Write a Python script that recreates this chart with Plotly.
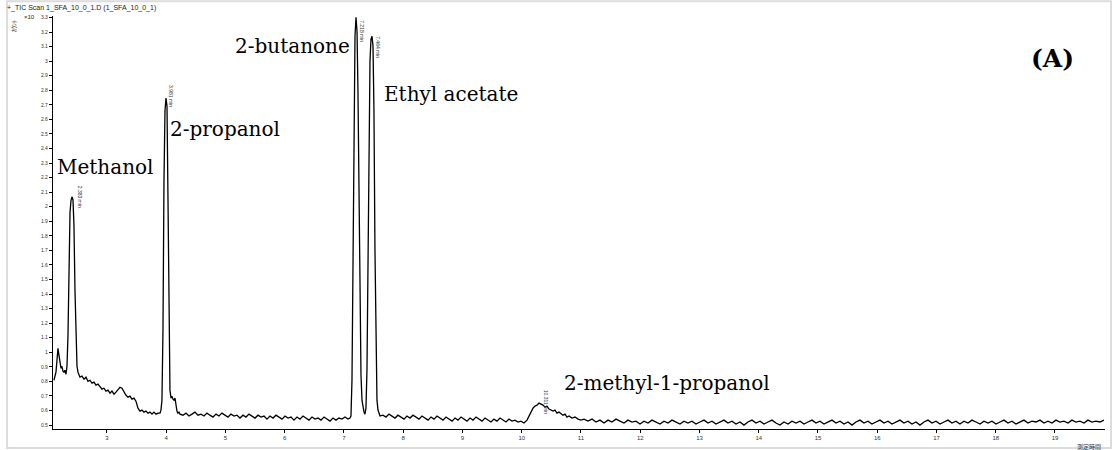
import plotly.graph_objects as go

# ---- data (retention time in min, intensity in x10^4 counts) ----
t_start = [2.105, 2.122, 2.139, 2.156, 2.173, 2.190, 2.207, 2.224, 2.240, 2.257, 2.274, 2.291,
           2.308, 2.325, 2.342, 2.359, 2.376, 2.392, 2.409, 2.426, 2.443, 2.460, 2.477, 2.494,
           2.511, 2.527, 2.544]
i_start = [0.808, 0.836, 0.863, 0.945, 1.027, 0.979, 0.918, 0.890, 0.904, 0.870, 0.863, 0.877,
           0.849, 0.904, 1.116, 1.562, 1.959, 2.041, 2.068, 2.048, 1.870, 1.425, 1.048, 0.904,
           0.863, 0.842, 0.829]

t_early = [2.578, 2.612, 2.646, 2.679, 2.713, 2.747, 2.781, 2.814, 2.848, 2.882, 2.916, 2.949,
           2.983, 3.017, 3.051, 3.084, 3.118, 3.152, 3.186, 3.219, 3.253, 3.287, 3.321, 3.354,
           3.388, 3.422, 3.456, 3.489, 3.523, 3.557, 3.591, 3.624, 3.658, 3.692, 3.726, 3.760,
           3.793, 3.827, 3.861, 3.895, 3.911]
i_early = [0.836, 0.815, 0.829, 0.801, 0.808, 0.788, 0.795, 0.774, 0.781, 0.760, 0.747, 0.753,
           0.733, 0.740, 0.719, 0.733, 0.712, 0.726, 0.747, 0.760, 0.753, 0.726, 0.705, 0.692,
           0.699, 0.678, 0.685, 0.664, 0.616, 0.596, 0.603, 0.589, 0.596, 0.582, 0.589, 0.575,
           0.589, 0.575, 0.582, 0.582, 0.603]

t_propanol = [3.928, 3.945, 3.962, 3.979, 3.996, 4.013, 4.030, 4.047, 4.063, 4.080, 4.097,
              4.114, 4.131, 4.148, 4.165, 4.181, 4.198, 4.215, 4.232]
i_propanol = [0.671, 1.151, 2.178, 2.658, 2.747, 2.692, 2.041, 1.151, 0.740, 0.685, 0.699,
              0.678, 0.671, 0.685, 0.637, 0.596, 0.582, 0.589, 0.575]

t_mid = [4.283, 4.333, 4.384, 4.435, 4.485, 4.536, 4.587, 4.637, 4.688, 4.738, 4.789, 4.840,
         4.890, 4.941, 4.992, 5.042, 5.093, 5.144, 5.194, 5.245, 5.295, 5.346, 5.397, 5.447,
         5.498, 5.549, 5.599, 5.650, 5.700, 5.751, 5.802, 5.852, 5.903, 5.954, 6.004, 6.055,
         6.106, 6.156, 6.207, 6.257, 6.308, 6.359, 6.409, 6.460, 6.511, 6.561, 6.612, 6.663,
         6.713, 6.764, 6.814, 6.865, 6.916, 6.966, 7.017, 7.068, 7.101]
i_mid = [0.568, 0.582, 0.562, 0.575, 0.589, 0.568, 0.575, 0.562, 0.582, 0.568, 0.555, 0.575,
         0.562, 0.582, 0.568, 0.555, 0.575, 0.562, 0.568, 0.548, 0.568, 0.555, 0.575, 0.562,
         0.548, 0.568, 0.555, 0.562, 0.541, 0.562, 0.548, 0.568, 0.555, 0.541, 0.562, 0.548,
         0.555, 0.534, 0.555, 0.541, 0.562, 0.548, 0.534, 0.555, 0.541, 0.548, 0.534, 0.555,
         0.541, 0.527, 0.548, 0.534, 0.548, 0.541, 0.555, 0.541, 0.548]

t_pair = [7.118, 7.135, 7.152, 7.169, 7.186, 7.203, 7.220, 7.236, 7.253, 7.270, 7.287, 7.304,
          7.321, 7.338, 7.354, 7.371, 7.388, 7.405, 7.422, 7.439, 7.456, 7.473, 7.490, 7.506,
          7.523, 7.540, 7.557, 7.574, 7.591, 7.608]
i_pair = [0.562, 0.808, 1.699, 2.658, 3.171, 3.301, 3.205, 2.795, 2.041, 1.288, 0.842, 0.671,
          0.616, 0.589, 0.575, 0.616, 0.877, 1.630, 2.452, 3.000, 3.151, 3.171, 3.103, 2.658,
          1.699, 0.945, 0.671, 0.603, 0.575, 0.562]

t_late = [7.658, 7.709, 7.760, 7.810, 7.861, 7.911, 7.962, 8.013, 8.063, 8.114, 8.165, 8.215,
          8.266, 8.317, 8.367, 8.418, 8.468, 8.519, 8.570, 8.620, 8.671, 8.722, 8.772, 8.823,
          8.874, 8.924, 8.975, 9.025, 9.076, 9.127, 9.177, 9.228, 9.279, 9.329, 9.380, 9.431,
          9.481, 9.532, 9.582, 9.633, 9.684, 9.734, 9.785, 9.836, 9.886, 9.937, 9.987, 10.038,
          10.089, 10.123]
i_late = [0.568, 0.555, 0.575, 0.562, 0.548, 0.568, 0.555, 0.541, 0.562, 0.548, 0.568, 0.555,
          0.541, 0.562, 0.548, 0.534, 0.555, 0.541, 0.562, 0.548, 0.534, 0.555, 0.541, 0.527,
          0.548, 0.534, 0.555, 0.541, 0.527, 0.548, 0.534, 0.555, 0.541, 0.527, 0.548, 0.534,
          0.521, 0.541, 0.527, 0.548, 0.534, 0.521, 0.541, 0.527, 0.534, 0.521, 0.527, 0.514,
          0.534, 0.562]

t_methylpropanol = [10.156, 10.190, 10.224, 10.258, 10.291, 10.325, 10.359, 10.393, 10.426,
                    10.460, 10.494, 10.528, 10.561, 10.595, 10.629, 10.663, 10.696, 10.730,
                    10.764, 10.798, 10.848, 10.899, 10.950, 11.000, 11.051]
i_methylpropanol = [0.589, 0.616, 0.630, 0.637, 0.651, 0.644, 0.637, 0.623, 0.630,
                    0.610, 0.603, 0.596, 0.603, 0.582, 0.589, 0.575, 0.568, 0.575,
                    0.555, 0.562, 0.548, 0.555, 0.541, 0.534, 0.541]

t_tail = [11.118, 11.186, 11.253, 11.321, 11.388, 11.456, 11.523, 11.591, 11.658, 11.726,
          11.793, 11.861, 11.928, 11.996, 12.063, 12.131, 12.198, 12.266, 12.333, 12.401,
          12.468, 12.536, 12.603, 12.671, 12.738, 12.806, 12.873, 12.941, 13.008, 13.076,
          13.143, 13.211, 13.278, 13.346, 13.413, 13.481, 13.548, 13.616, 13.683, 13.751,
          13.818, 13.886, 13.953, 14.021, 14.088, 14.156, 14.223, 14.291, 14.358, 14.426,
          14.494, 14.561, 14.629, 14.696, 14.764, 14.831, 14.899, 14.966, 15.034, 15.101,
          15.169, 15.236, 15.304, 15.371, 15.439, 15.506, 15.574, 15.641, 15.709, 15.776,
          15.844, 15.911, 15.979, 16.046, 16.114, 16.181, 16.249, 16.316, 16.384, 16.451,
          16.519, 16.586, 16.654, 16.721, 16.789, 16.856, 16.924, 16.991, 17.059, 17.126,
          17.194, 17.261, 17.329, 17.396, 17.464, 17.531, 17.599, 17.666, 17.734, 17.801,
          17.869, 17.936, 18.004, 18.071, 18.139, 18.206, 18.274, 18.341, 18.409, 18.476,
          18.544, 18.611, 18.679, 18.746, 18.814, 18.881, 18.949, 19.016, 19.084, 19.151,
          19.219, 19.286, 19.354, 19.421, 19.489, 19.556, 19.624, 19.691, 19.759, 19.826]
i_tail = [0.527, 0.541, 0.521, 0.534, 0.514, 0.534, 0.521, 0.541, 0.527, 0.514,
          0.534, 0.521, 0.527, 0.507, 0.527, 0.514, 0.534, 0.521, 0.507, 0.527,
          0.514, 0.534, 0.521, 0.507, 0.527, 0.514, 0.527, 0.507, 0.521, 0.534,
          0.514, 0.527, 0.507, 0.521, 0.534, 0.514, 0.527, 0.507, 0.521, 0.500,
          0.521, 0.534, 0.514, 0.527, 0.507, 0.521, 0.534, 0.514, 0.500, 0.521,
          0.507, 0.527, 0.514, 0.527, 0.507, 0.521, 0.534, 0.514, 0.527, 0.507,
          0.521, 0.534, 0.514, 0.527, 0.507, 0.521, 0.500, 0.521, 0.534, 0.514,
          0.527, 0.507, 0.521, 0.534, 0.514, 0.527, 0.507, 0.521, 0.534, 0.514,
          0.527, 0.507, 0.521, 0.500, 0.521, 0.534, 0.514, 0.527, 0.507, 0.521,
          0.534, 0.514, 0.527, 0.507, 0.527, 0.514, 0.534, 0.521, 0.507, 0.527,
          0.514, 0.527, 0.507, 0.521, 0.534, 0.514, 0.527, 0.507, 0.521, 0.534,
          0.514, 0.527, 0.521, 0.534, 0.514, 0.527, 0.514, 0.534, 0.521, 0.527,
          0.514, 0.534, 0.521, 0.527, 0.514, 0.534, 0.521, 0.527, 0.521, 0.534]

compound_names = ["Methanol", "2-propanol", "2-butanone", "Ethyl acetate", "2-methyl-1-propanol"]
compound_label_t = [2.122, 4.030, 7.135, 7.641, 10.680]
compound_label_i = [2.274, 2.534, 3.103, 2.774, 0.788]
compound_anchor = ["left", "left", "right", "left", "left"]

peak_rt_text = ["2.383 min", "3.981 min", "7.218 min", "7.464 min", "10.311 min"]
peak_text_t = [2.460, 3.996, 7.220, 7.490, 10.325]
peak_text_i = [2.158, 2.849, 3.295, 3.185, 0.753]

x_ticks = list(range(3, 20))
y_ticks = [round(0.5 + 0.1 * k, 1) for k in range(29)]
y_ticktext = [("%g" % v) for v in y_ticks]

rt = t_start + t_early + t_propanol + t_mid + t_pair + t_late + t_methylpropanol + t_tail
inten = i_start + i_early + i_propanol + i_mid + i_pair + i_late + i_methylpropanol + i_tail

fig = go.Figure()
fig.add_trace(go.Scatter(x=rt, y=inten, mode="lines",
                         line=dict(color="black", width=1.3), hoverinfo="x+y"))

serif = "DejaVu Serif"
for name, tx, iy, anc in zip(compound_names, compound_label_t, compound_label_i, compound_anchor):
    fig.add_annotation(x=tx, y=iy, text=name, showarrow=False, xanchor=anc, yanchor="middle",
                       font=dict(family=serif, size=20, color="black"))

for txt, tx, iy in zip(peak_rt_text, peak_text_t, peak_text_i):
    fig.add_annotation(x=tx, y=iy, text=txt, showarrow=False, textangle=90,
                       xanchor="left", yanchor="top",
                       font=dict(family="Liberation Sans", size=5, color="#333"))

fig.add_annotation(x=18.966, y=3.021, text="<b>(A)</b>", showarrow=False,
                   xanchor="center", yanchor="middle",
                   font=dict(family=serif, size=25, color="black"))

# header texts
fig.add_annotation(xref="paper", yref="paper", x=-0.0456, y=1.0194,
                   text="+_TIC Scan 1_SFA_10_0_1.D (1_SFA_10_0_1)", showarrow=False,
                   xanchor="left", yanchor="middle",
                   font=dict(family="Liberation Sans", size=7, color="#222"))
fig.add_annotation(xref="paper", yref="paper", x=-0.0295, y=0.998,
                   text="×10", showarrow=False, xanchor="left", yanchor="middle",
                   font=dict(family="Liberation Sans", size=6, color="#222"))
fig.add_annotation(xref="paper", yref="paper", x=-0.037, y=0.976,
                   text="ｶｳﾝﾄ", showarrow=False, textangle=-90,
                   xanchor="center", yanchor="middle",
                   font=dict(family="Noto Sans CJK JP", size=6, color="#222"))
fig.add_annotation(xref="paper", yref="paper", x=0.9985, y=-0.026,
                   text="測定時間", showarrow=False, xanchor="right", yanchor="top",
                   font=dict(family="Noto Sans CJK JP", size=6, color="#333"))

# light grey outer frame
fig.add_shape(type="rect", xref="paper", yref="paper",
              x0=-0.0437, x1=1.0057, y0=-0.046, y1=1.036,
              line=dict(color="#dcdcdc", width=2), layer="below")

fig.update_layout(
    width=1112, height=450,
    margin=dict(l=53, r=7, t=16, b=21, autoexpand=False),
    paper_bgcolor="white", plot_bgcolor="white",
    showlegend=False,
    xaxis=dict(range=[2.089, 19.844], tickvals=x_ticks, ticktext=[str(v) for v in x_ticks],
               ticks="outside", ticklen=3, tickwidth=1, tickcolor="black",
               tickfont=dict(family="Liberation Sans", size=6, color="#333"),
               showline=True, linecolor="black", linewidth=1.2, automargin=False,
               showgrid=False, zeroline=False),
    yaxis=dict(range=[0.473, 3.31], tickvals=y_ticks, ticktext=y_ticktext,
               ticks="outside", ticklen=3, tickwidth=1, tickcolor="black",
               tickfont=dict(family="Liberation Sans", size=5, color="#333"),
               showline=True, linecolor="black", linewidth=1.2, automargin=False,
               showgrid=False, zeroline=False),
)

fig.write_html("out.html", config={"displayModeBar": False},
               post_script="document.body.style.margin='0';document.body.style.overflow='hidden';")
